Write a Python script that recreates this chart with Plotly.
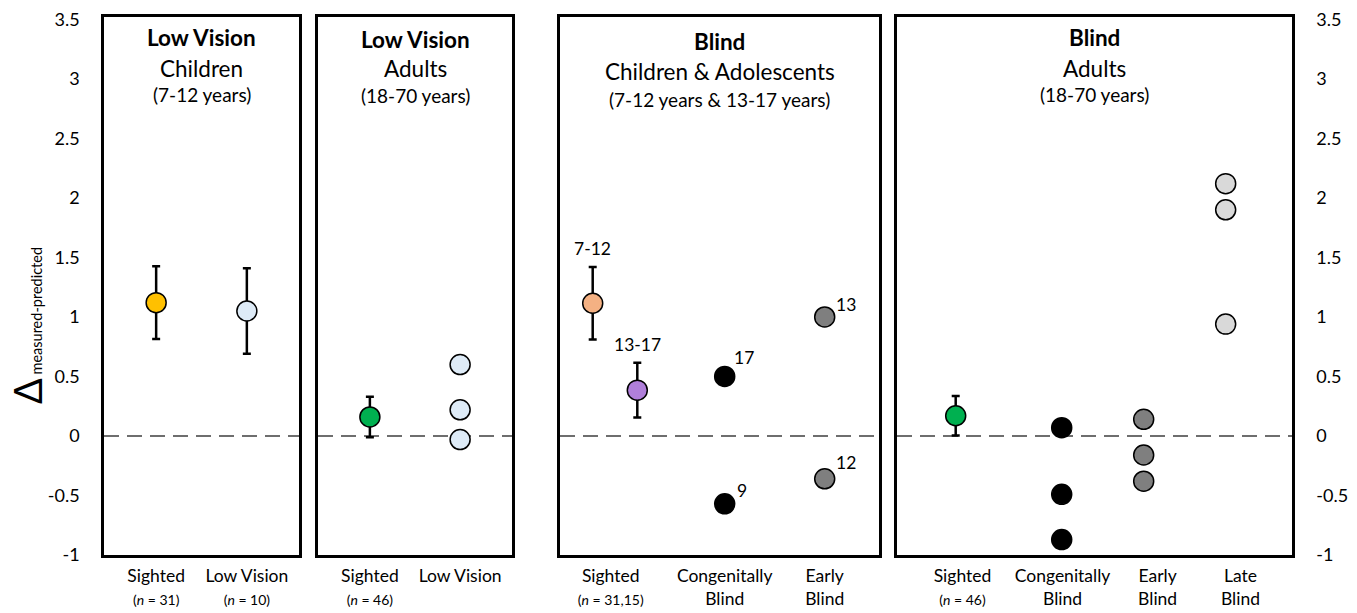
import plotly.graph_objects as go

# ------------------------------------------------------------------ data
Y_TICKS = [-1, -0.5, 0, 0.5, 1, 1.5, 2, 2.5, 3, 3.5]
Y_TICK_LABELS = ["-1", "-0.5", "0", "0.5", "1", "1.5", "2", "2.5", "3", "3.5"]
Y_TITLE_MAIN = "Δ"
Y_TITLE_SUB = "measured-predicted"

# panel titles (bold line, line 2, line 3)
TITLES_BOLD = ["Low Vision", "Low Vision", "Blind", "Blind"]
TITLES_L2 = ["Children", "Adults", "Children &amp; Adolescents", "Adults"]
TITLES_L3 = ["(7-12 years)", "(18-70 years)", "(7-12 years &amp; 13-17 years)", "(18-70 years)"]

# Panel 1: Low Vision children
P1_LABELS = ["Sighted", "Low Vision"]
P1_N = ["(<i>n</i> = 31)", "(<i>n</i> = 10)"]
P1_MEAN = [1.12, 1.05]
P1_ERR = [0.305, 0.36]

# Panel 2: Low Vision adults
P2_LABELS = ["Sighted", "Low Vision"]
P2_N = ["(<i>n</i> = 46)", ""]
P2_SIGHTED_MEAN = [0.16]
P2_SIGHTED_ERR = [0.17]
P2_LOWVISION = [0.60, 0.22, -0.03]

# Panel 3: Blind children & adolescents
P3_LABELS = ["Sighted", "Congenitally", "Early"]
P3_LINE2 = ["(<i>n</i> = 31,15)", "Blind", "Blind"]
P3_SIGHTED_GROUPS = ["7-12", "13-17"]
P3_SIGHTED_MEAN = [1.115, 0.385]
P3_SIGHTED_ERR = [0.305, 0.23]
P3_CONGENITAL = [0.50, -0.57]
P3_CONGENITAL_AGE = ["17", "9"]
P3_EARLY = [1.00, -0.36]
P3_EARLY_AGE = ["13", "12"]

# Panel 4: Blind adults
P4_LABELS = ["Sighted", "Congenitally", "Early", "Late"]
P4_LINE2 = ["(<i>n</i> = 46)", "Blind", "Blind", "Blind"]
P4_SIGHTED_MEAN = [0.17]
P4_SIGHTED_ERR = [0.165]
P4_CONGENITAL = [0.07, -0.49, -0.87]
P4_EARLY = [0.14, -0.16, -0.38]
P4_LATE = [2.12, 1.90, 0.94]

# ------------------------------------------------------------------ styles / layout
FONT = "Lato, Carlito, 'Open Sans', sans-serif"
W, H = 1357, 613
C_GOLD = "#FFC000"
C_LIGHTBLUE = "#DEEBF7"
C_GREEN = "#00B050"
C_SALMON = "#F4B183"
C_PURPLE = "#B07FDA"
C_BLACK = "#000000"
C_GRAY = "#7F7F7F"
C_LIGHTGRAY = "#D9D9D9"
MSIZE = 20

# panel pixel boxes (left, right)
PANEL_PX = [(104, 299), (318, 512), (560, 879), (897, 1292)]
TOP_PX, BOT_PX = 17, 555
X_RANGES = [[-0.575, 1.575], [-0.575, 1.575], [-0.647, 2.543], [-1.009, 3.809]]
Y_RANGE = [-1, 3.52]

# category positions inside panels
P3_SIGHTED_X = [-0.32, 0.126]
P3_TICKS = [-0.14, 1, 2]
P4_SIGHTED_X = -0.293
P4_TICKS = [-0.21, 1.01, 2.17, 3.18]

fig = go.Figure()


def ax(i):
    return ("x" if i == 1 else f"x{i}"), ("y" if i == 1 else f"y{i}")


def pts(i, xs, ys, color, err=None):
    xa, ya = ax(i)
    tr = go.Scatter(
        x=xs, y=ys, mode="markers", xaxis=xa, yaxis=ya, showlegend=False,
        marker=dict(size=MSIZE, color=color, line=dict(color="black", width=1.5)),
        hoverinfo="y",
    )
    if err is not None:
        tr.error_y = dict(type="data", array=err, visible=True, color="black",
                          thickness=2.5, width=4)
    fig.add_trace(tr)


# Panel 1
pts(1, [0], [P1_MEAN[0]], C_GOLD, [P1_ERR[0]])
pts(1, [1], [P1_MEAN[1]], C_LIGHTBLUE, [P1_ERR[1]])
# Panel 2
pts(2, [0], P2_SIGHTED_MEAN, C_GREEN, P2_SIGHTED_ERR)
pts(2, [1] * len(P2_LOWVISION), P2_LOWVISION, C_LIGHTBLUE)
# Panel 3
pts(3, [P3_SIGHTED_X[0]], [P3_SIGHTED_MEAN[0]], C_SALMON, [P3_SIGHTED_ERR[0]])
pts(3, [P3_SIGHTED_X[1]], [P3_SIGHTED_MEAN[1]], C_PURPLE, [P3_SIGHTED_ERR[1]])
pts(3, [1] * len(P3_CONGENITAL), P3_CONGENITAL, C_BLACK)
pts(3, [2] * len(P3_EARLY), P3_EARLY, C_GRAY)
# Panel 4
pts(4, [P4_SIGHTED_X], P4_SIGHTED_MEAN, C_GREEN, P4_SIGHTED_ERR)
pts(4, [1] * len(P4_CONGENITAL), P4_CONGENITAL, C_BLACK)
pts(4, [2] * len(P4_EARLY), P4_EARLY, C_GRAY)
pts(4, [3] * len(P4_LATE), P4_LATE, C_LIGHTGRAY)

# tick texts
SMALL = "<span style='font-size:14px'>{}</span>"
tick_sets = [
    ([0, 1], [f"{a}<br>{SMALL.format(b)}" for a, b in zip(P1_LABELS, P1_N)]),
    ([0, 1], [f"{a}<br>{SMALL.format(b)}" if b else a + "<br> " for a, b in zip(P2_LABELS, P2_N)]),
    (P3_TICKS, [f"{P3_LABELS[0]}<br>{SMALL.format(P3_LINE2[0])}"] +
     [f"{a}<br>{b}" for a, b in zip(P3_LABELS[1:], P3_LINE2[1:])]),
    (P4_TICKS, [f"{P4_LABELS[0]}<br>{SMALL.format(P4_LINE2[0])}"] +
     [f"{a}<br>{b}" for a, b in zip(P4_LABELS[1:], P4_LINE2[1:])]),
]

ydom = [1 - BOT_PX / H, 1 - TOP_PX / H]
layout = dict(
    width=W, height=H, margin=dict(l=0, r=0, t=0, b=0, autoexpand=False),
    paper_bgcolor="white", plot_bgcolor="white",
    font=dict(family=FONT, color="black", size=17),
    showlegend=False,
)
for i in range(1, 5):
    l, r = PANEL_PX[i - 1]
    xn = "xaxis" if i == 1 else f"xaxis{i}"
    yn = "yaxis" if i == 1 else f"yaxis{i}"
    tv, tt = tick_sets[i - 1]
    layout[xn] = dict(
        domain=[l / W, r / W], range=X_RANGES[i - 1], anchor=ax(i)[1],
        showgrid=False, zeroline=False, showline=True, linecolor="black",
        linewidth=2.5, mirror=True, ticks="", tickvals=tv, ticktext=tt,
        tickfont=dict(family=FONT, size=17.5, color="black"), ticklabelstandoff=3,
        fixedrange=True,
    )
    ycfg = dict(
        domain=ydom, range=Y_RANGE, anchor=ax(i)[0],
        showgrid=False, zeroline=False, showline=True, linecolor="black",
        linewidth=2.5, mirror=True, ticks="", tickvals=Y_TICKS,
        ticktext=Y_TICK_LABELS, showticklabels=(i in (1, 4)),
        tickfont=dict(family=FONT, size=18, color="black"), ticklabelstandoff=18,
        fixedrange=True,
    )
    if i == 4:
        ycfg["side"] = "right"
    layout[yn] = ycfg
fig.update_layout(**layout)

# dashed zero lines
for i in range(1, 5):
    xa, ya = ax(i)
    fig.add_shape(type="line", xref=f"{xa} domain", yref=ya, x0=0, x1=1, y0=0, y1=0,
                  line=dict(color="#6E6E6E", width=2, dash="15px,8px"), layer="below")

# panel titles
TITLE_Y_PX = [(38, 68, 95), (39, 69, 96), (41, 71, 99), (38, 68, 95)]
for i in range(1, 5):
    xa, _ = ax(i)
    y1, y2, y3 = TITLE_Y_PX[i - 1]
    for txt, ypx, sz in ((f"<b>{TITLES_BOLD[i-1]}</b>", y1, 22.5),
                         (TITLES_L2[i - 1], y2, 22.5),
                         (TITLES_L3[i - 1], y3, 19)):
        fig.add_annotation(xref=f"{xa} domain", yref="paper", x=0.5, y=1 - ypx / H,
                           text=txt, showarrow=False, xanchor="center", yanchor="middle",
                           font=dict(family=FONT, size=sz, color="black"))

# point labels, panel 3
for k in range(2):
    fig.add_annotation(xref="x3", yref="y3", x=P3_SIGHTED_X[k],
                       y=P3_SIGHTED_MEAN[k] + P3_SIGHTED_ERR[k], yshift=18,
                       text=P3_SIGHTED_GROUPS[k], showarrow=False,
                       font=dict(family=FONT, size=17.5))
CB_SHIFT = [(19, 19), (17, 13)]
EB_SHIFT = [(21, 12), (21, 16)]
for k in range(2):
    fig.add_annotation(xref="x3", yref="y3", x=1, y=P3_CONGENITAL[k],
                       xshift=CB_SHIFT[k][0], yshift=CB_SHIFT[k][1],
                       text=P3_CONGENITAL_AGE[k], showarrow=False,
                       font=dict(family=FONT, size=17.5))
    fig.add_annotation(xref="x3", yref="y3", x=2, y=P3_EARLY[k],
                       xshift=EB_SHIFT[k][0], yshift=EB_SHIFT[k][1],
                       text=P3_EARLY_AGE[k], showarrow=False,
                       font=dict(family=FONT, size=17.5))

# y-axis title
fig.add_annotation(
    xref="paper", yref="paper", x=27 / W, y=1 - 326 / H, textangle=-90,
    showarrow=False, xanchor="center", yanchor="middle",
    text=(f"<span style='font-size:38px'>{Y_TITLE_MAIN}</span>"
          f"<span style='font-size:14.5px'> {Y_TITLE_SUB}</span>"),
    font=dict(family=FONT, color="black"),
)

fig.write_html(
    "out.html",
    config={"displayModeBar": False},
    post_script="document.body.style.margin='0';document.body.style.overflow='hidden';",
)
